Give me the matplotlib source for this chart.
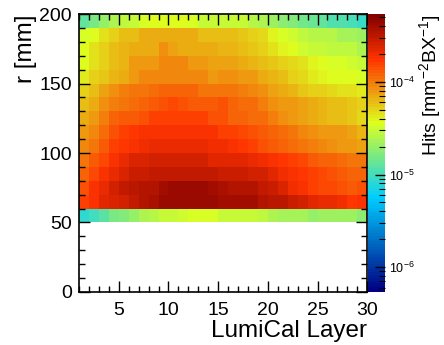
# hit density map of the LumiCal, layer vs radius
from matplotlib import pyplot as plt
from matplotlib.colors import LinearSegmentedColormap, LogNorm
from matplotlib.ticker import MultipleLocator, LogLocator, NullFormatter
import numpy as np

plt.rcParams['font.family'] = ['Liberation Sans', 'DejaVu Sans']
plt.rcParams['mathtext.fontset'] = 'custom'
plt.rcParams['mathtext.rm'] = 'Liberation Sans'

# bins
layer_edges = np.arange(1, 31)        # LumiCal layers 1..30
r_edges = np.arange(50, 201, 10)      # r [mm]

# hits [1e-5 mm^-2 BX^-1], rows from r = 190-200 (top) down to r = 50-60 (bottom)
row_190 = [1.30, 1.60, 1.97, 2.43, 2.79, 2.99, 3.44, 3.68, 3.68, 3.68, 3.68, 3.44, 2.99, 2.99,
           2.99, 2.99, 2.99, 2.61, 2.43, 2.11, 1.84, 1.72, 1.50, 1.40, 1.30, 1.13, 1.13, 1.06, 0.92]
row_180 = [3.44, 3.68, 4.53, 5.21, 5.98, 5.98, 6.87, 7.10, 7.10, 7.10, 7.10, 7.10, 5.98, 5.98,
           5.98, 5.98, 5.58, 5.21, 4.86, 3.95, 3.44, 3.21, 2.79, 2.61, 2.61, 2.61, 2.26, 2.26, 2.11]
row_170 = [3.68, 4.53, 5.21, 5.98, 6.41, 6.87, 6.87, 6.87, 8.45, 7.36, 6.87, 6.87, 6.87, 6.87,
           6.41, 6.41, 5.98, 5.58, 5.21, 4.53, 3.95, 3.68, 3.21, 2.99, 2.99, 2.79, 2.79, 2.79, 2.43]
row_160 = [3.68, 4.53, 5.21, 5.98, 6.41, 7.89, 7.89, 7.89, 9.06, 9.06, 9.06, 7.89, 7.89, 7.36,
           7.36, 7.36, 6.87, 6.41, 5.98, 5.58, 5.21, 4.86, 4.53, 3.95, 3.68, 3.44, 3.44, 3.21, 2.99]
row_150 = [4.23, 5.21, 5.58, 6.41, 6.87, 7.89, 9.06, 9.06, 9.06, 9.06, 9.06, 9.06, 9.06, 7.89,
           8.45, 8.45, 7.89, 7.89, 6.87, 6.41, 5.98, 5.21, 4.86, 4.23, 3.95, 3.68, 3.68, 3.68, 3.44]
row_140 = [5.21, 5.98, 7.36, 8.45, 9.71, 10.4, 10.4, 11.2, 12.0, 12.0, 12.0, 12.0, 10.4, 10.4,
           10.4, 10.4, 9.71, 9.06, 8.45, 7.36, 6.87, 6.41, 5.58, 5.21, 5.21, 4.86, 4.53, 4.53, 4.23]
row_130 = [5.98, 6.87, 8.45, 9.71, 10.4, 11.2, 12.0, 12.8, 13.7, 14.7, 13.7, 12.8, 12.8, 12.8,
           13.7, 12.0, 11.2, 11.2, 9.71, 8.45, 7.89, 7.89, 7.36, 6.87, 6.41, 5.98, 5.98, 5.58, 5.21]
row_120 = [6.87, 7.89, 9.71, 12.0, 12.8, 12.8, 13.7, 15.8, 15.8, 15.8, 15.8, 15.8, 15.8, 13.7,
           13.7, 12.0, 12.0, 11.2, 11.2, 9.71, 8.45, 7.89, 7.36, 6.87, 6.41, 5.98, 5.98, 5.58, 4.86]
row_110 = [7.89, 9.06, 11.2, 13.7, 15.8, 16.9, 18.1, 18.1, 18.1, 18.1, 18.1, 18.1, 18.1, 18.1,
           15.8, 15.8, 14.7, 13.7, 12.8, 12.0, 11.2, 10.4, 9.06, 8.45, 7.89, 7.89, 7.89, 7.36, 6.41]
row_100 = [9.06, 10.4, 12.8, 15.8, 16.9, 18.7, 19.4, 20.8, 20.8, 20.8, 20.8, 20.8, 20.8, 19.4,
           19.4, 18.7, 16.9, 15.8, 13.7, 12.8, 12.0, 11.2, 10.4, 9.71, 9.06, 8.45, 7.89, 7.89, 7.36]
row_90 = [10.4, 12.8, 14.7, 18.1, 20.8, 23.9, 23.9, 25.6, 26.5, 26.5, 26.5, 26.5, 25.6, 23.1,
          22.3, 22.3, 22.3, 20.8, 19.4, 18.1, 16.9, 15.8, 14.7, 12.8, 12.0, 12.0, 11.2, 10.4, 10.4]
row_80 = [12.0, 14.7, 18.1, 20.8, 23.9, 27.5, 27.5, 29.4, 29.4, 29.4, 29.4, 29.4, 29.4, 29.4,
          27.5, 27.5, 27.5, 25.6, 25.6, 22.3, 19.4, 18.1, 16.9, 15.8, 14.7, 13.7, 12.8, 12.0, 12.0]
row_70 = [13.7, 18.1, 20.8, 25.6, 29.4, 31.5, 33.8, 33.8, 38.8, 41.6, 41.6, 41.6, 41.6, 38.8,
          36.2, 33.8, 33.8, 33.8, 29.4, 27.5, 23.9, 19.4, 18.1, 15.8, 14.7, 14.7, 13.7, 12.8, 13.7]
row_60 = [15.8, 18.7, 22.3, 23.9, 25.6, 29.4, 33.8, 36.2, 41.6, 41.6, 41.6, 41.6, 41.6, 41.6,
          38.8, 38.8, 38.8, 38.8, 33.8, 31.5, 31.5, 27.5, 25.6, 22.3, 20.8, 20.8, 19.4, 16.9, 18.1]
row_50 = [0.86, 0.99, 1.22, 1.60, 1.72, 1.97, 2.43, 2.61, 2.99, 2.99, 3.21, 3.44, 3.44, 3.44,
          2.99, 2.99, 2.99, 2.99, 2.79, 2.43, 2.26, 2.26, 2.26, 1.97, 2.11, 2.11, 2.11, 2.11, 1.84]

rows_top_down = [row_190, row_180, row_170, row_160, row_150, row_140, row_130, row_120,
                 row_110, row_100, row_90, row_80, row_70, row_60, row_50]
hits = np.array(rows_top_down)[::-1] * 1e-5

# colour scale limits
z_max = 5.4e-4
z_min = z_max / 1000.

# root style gradient palette
stops = [0.00, 0.34, 0.61, 0.84, 1.00]
red = [0.00, 0.00, 0.87, 1.00, 0.51]
green = [0.00, 0.81, 1.00, 0.20, 0.00]
blue = [0.51, 1.00, 0.12, 0.00, 0.00]
palette = LinearSegmentedColormap.from_list(
    'root', list(zip(stops, zip(red, green, blue))), N=99)

fig = plt.figure(figsize=(4.44, 3.45), dpi=100)
ax = fig.add_axes([0.178, 0.154, 0.649, 0.805])
cax = fig.add_axes([0.829, 0.154, 0.038, 0.805])

mesh = ax.pcolormesh(layer_edges, r_edges, hits, cmap=palette,
                     norm=LogNorm(vmin=z_min, vmax=z_max))

ax.set_xlim(1, 30)
ax.set_ylim(0, 200)
ax.xaxis.set_major_locator(MultipleLocator(5))
ax.xaxis.set_minor_locator(MultipleLocator(1))
ax.yaxis.set_major_locator(MultipleLocator(50))
ax.yaxis.set_minor_locator(MultipleLocator(10))
ax.tick_params(which='both', direction='in', top=True, right=True, width=1.0,
               labelsize=14)
ax.tick_params(axis='x', pad=7)
ax.tick_params(axis='y', pad=5)
ax.tick_params(which='major', length=8)
ax.tick_params(which='minor', length=4)
for s in ax.spines.values():
  s.set_linewidth(1.2)

ax.set_xlabel('LumiCal Layer', fontsize=17.5, loc='right', labelpad=1)
ax.set_ylabel('r [mm]', fontsize=17.5, loc='top', labelpad=2)

# colour bar
cb = fig.colorbar(mesh, cax=cax)
cb.outline.set_visible(False)
cax.yaxis.set_major_locator(LogLocator(base=10))
cax.yaxis.set_minor_locator(LogLocator(base=10, subs=np.arange(2, 10)))
cax.yaxis.set_minor_formatter(NullFormatter())
cax.tick_params(which='both', direction='in', right=True, labelsize=9, pad=3)
cax.tick_params(which='major', length=7, width=1.0)
cax.tick_params(which='minor', length=4, width=0.8)
cb.set_label('Hits [mm$^{-2}$BX$^{-1}$]', fontsize=14, loc='top', labelpad=2)

fig.savefig('out.png', dpi=100)
